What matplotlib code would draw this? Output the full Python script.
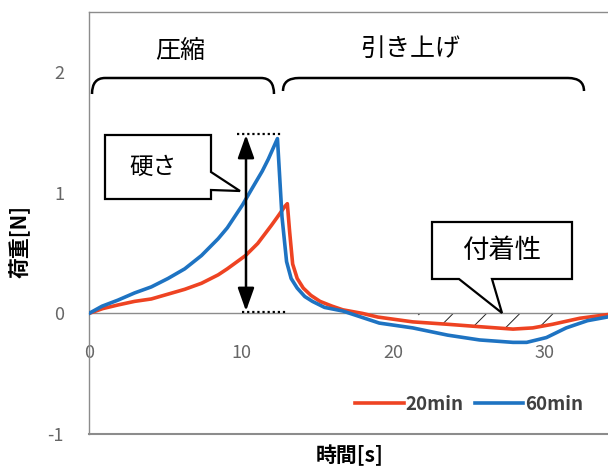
import matplotlib
matplotlib.use("Agg")
import matplotlib.pyplot as plt
from matplotlib.path import Path
from matplotlib.patches import PathPatch, Polygon
import numpy as np

plt.rcParams['font.family'] = ['Noto Sans CJK JP', 'DejaVu Sans']
plt.rcParams['hatch.linewidth'] = 0.7
plt.rcParams['axes.unicode_minus'] = False

###############################################################################
# données

t20 = [0, 0.9, 1.9, 3.0, 4.1, 5.2, 6.3, 7.4, 8.5, 9.1, 10.3, 11.1, 12.0, 12.4, 12.9,
       13.05, 13.2, 13.4, 13.7, 14.1, 14.6, 15.2, 16.0, 16.7, 18.0, 19.0, 21.3,
       23.6, 25.7, 27.9, 29.2, 30.5, 32.3, 34.1]
f20 = [0, 0.04, 0.07, 0.10, 0.12, 0.16, 0.20, 0.25, 0.32, 0.37, 0.48, 0.58, 0.73, 0.80, 0.89,
       0.91, 0.68, 0.41, 0.29, 0.21, 0.15, 0.10, 0.06, 0.03, 0.0, -0.03, -0.07,
       -0.09, -0.11, -0.13, -0.12, -0.09, -0.04, -0.01]

t60 = [0, 0.86, 1.9, 3.0, 4.1, 5.2, 6.3, 7.4, 8.5, 9.1, 10.1, 10.7, 11.4, 11.8, 12.4,
       12.7, 13.0, 13.3, 13.7, 14.2, 14.7, 15.5, 16.7, 19.1, 21.3, 23.6, 25.7,
       27.9, 28.8, 30.1, 31.4, 32.8, 34.1]
f60 = [0, 0.06, 0.11, 0.17, 0.22, 0.29, 0.37, 0.48, 0.62, 0.71, 0.90, 1.03, 1.18, 1.28, 1.45,
       0.80, 0.43, 0.29, 0.21, 0.14, 0.10, 0.05, 0.02, -0.08, -0.12, -0.18, -0.22,
       -0.24, -0.24, -0.20, -0.12, -0.06, -0.03]

series_labels = ['20min', '60min']
xticks = [0, 10, 20, 30]
yticks = [-1, 0, 1, 2]
hatch_range = (22, 31)

red = '#EE4322'
blue = '#1E73C2'
gris = '#8C8C8C'

###############################################################################
# figure

fig = plt.figure(figsize=(6.08, 4.69), dpi=100)
ax = fig.add_axes([89/608, 35/469, 519/608, 422/469])
ax.set_xlim(0, 34.15)
ax.set_ylim(-1, 2.5)

ax.plot(t20, f20, color=red, lw=2.6, label=series_labels[0], solid_joinstyle='round', zorder=3)
ax.plot(t60, f60, color=blue, lw=2.6, label=series_labels[1], solid_joinstyle='round', zorder=4)

t20a = np.array(t20); f20a = np.array(f20)
ax.fill_between(t20a, 0, f20a, where=(t20a >= hatch_range[0]) & (t20a <= hatch_range[1]),
                interpolate=True, facecolor='none', edgecolor='#222222', hatch='/',
                linewidth=0, zorder=2)

# axes façon Excel
ax.spines['right'].set_visible(False)
ax.spines['bottom'].set_position(('data', 0))
for s in ['left', 'top', 'bottom']:
    ax.spines[s].set_color(gris)
    ax.spines[s].set_linewidth(1.0)
ax.axhline(-1, color=gris, lw=1.5, clip_on=False)

ax.set_xticks(xticks)
ax.set_yticks(yticks)
ax.tick_params(axis='x', length=0, pad=22, labelsize=13, labelcolor='#666666')
ax.tick_params(axis='y', length=0, pad=18, labelsize=13, labelcolor='#666666')

leg = ax.legend(loc='center', bbox_to_anchor=(469/608, 1 - 404/469), bbox_transform=fig.transFigure,
                ncol=2, frameon=False, handlelength=2.6, handletextpad=0.1, columnspacing=0.6,
                prop={'size': 13.5, 'weight': 'bold'})
for txt in leg.get_texts():
    txt.set_color('#404040')

fig.text(20/608, 1 - 242/469, '荷重[N]', rotation=90, ha='center', va='center',
         fontsize=15, fontweight='bold')
fig.text(350/608, 1 - 455/469, '時間[s]', ha='center', va='center',
         fontsize=15, fontweight='bold')

###############################################################################
# annotations (coordonnées en pixels)

ov = fig.add_axes([0, 0, 1, 1], facecolor='none')
ov.set_xlim(0, 608)
ov.set_ylim(469, 0)
ov.axis('off')

def accolade(x0, x1, y, h, r):
    verts = [(x0, y + h), (x0, y), (x0 + r, y), (x1 - r, y), (x1, y), (x1, y + h)]
    codes = [Path.MOVETO, Path.CURVE3, Path.CURVE3, Path.LINETO, Path.CURVE3, Path.CURVE3]
    ov.add_patch(PathPatch(Path(verts, codes), fill=False, lw=1.8, color='black'))

accolade(92, 274, 78, 16, 13)
accolade(283, 584, 78, 13, 16)
ov.text(180, 51, '圧縮', ha='center', va='center', fontsize=18)
ov.text(410, 49, '引き上げ', ha='center', va='center', fontsize=18)

# bulles
ov.add_patch(Polygon([(105, 135), (211, 135), (211, 172), (240, 191), (211, 190),
                      (211, 199), (105, 199)], closed=True, facecolor='white',
                     edgecolor='black', lw=1.6, zorder=5))
ov.text(153, 167, '硬さ', ha='center', va='center', fontsize=17, zorder=6)

ov.add_patch(Polygon([(432, 222), (572, 222), (572, 279), (492, 279), (502, 313),
                      (459, 279), (432, 279)], closed=True, facecolor='white',
                     edgecolor='black', lw=1.6, zorder=5))
ov.text(502, 251, '付着性', ha='center', va='center', fontsize=19, zorder=6)

# flèche double et pointillés
ov.plot([237, 282], [134, 134], color='black', lw=1.6, ls=(0, (1, 1.3)))
ov.plot([242, 286], [312, 312], color='black', lw=1.6, ls=(0, (1, 1.3)))
ov.annotate('', xy=(246, 135), xytext=(246, 311),
            arrowprops=dict(arrowstyle='<|-|>,head_length=1.4,head_width=0.5',
                            color='black', lw=1.8, shrinkA=0, shrinkB=0))

fig.savefig('out.png', dpi=100)
